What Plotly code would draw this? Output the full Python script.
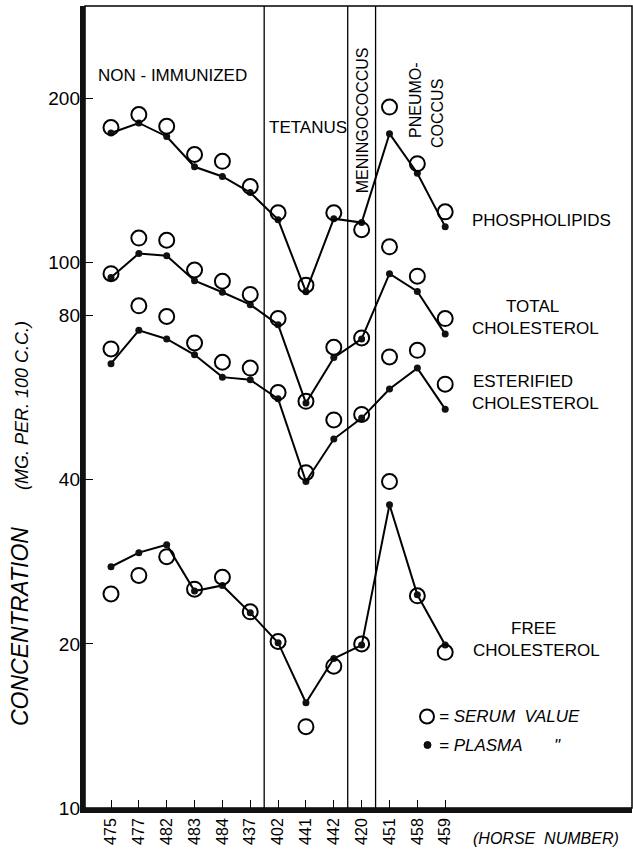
import plotly.graph_objects as go

# ---------------- data ----------------
horses = ["475", "477", "482", "483", "484", "437", "402", "441", "442", "420", "451", "458", "459"]
group_bounds = [5.5, 8.5, 9.5]
y_ticks = [10, 20, 40, 80, 100, 200]

phos_serum   = [177, 187, 178, 158, 153.5, 138, 123.5, 91, 123.5, 115, 193, 152, 124]
phos_plasma  = [173, 180.5, 170.5, 150, 144, 134.5, 120, 88.5, 120.5, 118.5, 172.5, 146, 116.5]
total_serum  = [95.5, 111, 110, 97, 92.5, 87.5, 79, 55.7, 70, 72.8, 107, 94.5, 79]
total_plasma = [94, 104, 103, 92.7, 88.3, 83.8, 77, 55.3, 67, 72.5, 95.5, 88.6, 74]
ester_serum  = [69.5, 83.4, 79.7, 71.3, 65.7, 64.1, 57.8, 41.2, 51.5, 52.7, 67.2, 69.1, 59.9]
ester_plasma = [65.3, 75.2, 72.5, 67.8, 61.7, 61, 56.3, 39.7, 47.5, 51.9, 58.7, 64.1, 53.9]
free_serum   = [24.7, 26.7, 28.9, 25.2, 26.5, 22.9, 20.2, 14.1, 18.2, 20, 39.7, 24.5, 19.3]
free_plasma  = [27.7, 29.4, 30.4, 25, 25.6, 22.8, 20.1, 15.6, 18.8, 19.9, 36, 24.6, 19.9]

# ---------------- layout geometry ----------------
W, H = 633, 856
ML, MR, MT, MB = 85, 1, 6, 48
PW, PH = W - ML - MR, H - MT - MB

def px(x):
    return (x - ML) / PW

def py(y):
    return (H - MB - y) / PH

FONT = "Liberation Sans, Arial, sans-serif"

fig = go.Figure()

series = [
    (phos_serum, phos_plasma),
    (total_serum, total_plasma),
    (ester_serum, ester_plasma),
    (free_serum, free_plasma),
]
for serum, plasma in series:
    fig.add_trace(go.Scatter(
        x=horses, y=plasma, mode="lines+markers",
        line=dict(color="black", width=2),
        marker=dict(symbol="circle", size=7, color="#111"),
        showlegend=False, hoverinfo="skip", cliponaxis=False))
    fig.add_trace(go.Scatter(
        x=horses, y=serum, mode="markers",
        marker=dict(symbol="circle-open", size=15, color="black", line=dict(width=2)),
        showlegend=False, hoverinfo="skip", cliponaxis=False))

shapes = []
for b in group_bounds:
    shapes.append(dict(type="line", xref="x", yref="paper", x0=b, x1=b, y0=0, y1=1,
                       line=dict(color="black", width=1.3)))
# thin frame (top/right)
shapes.append(dict(type="rect", xref="paper", yref="paper", x0=0, x1=1, y0=0, y1=1,
                   line=dict(color="black", width=1.5)))
# thick left and bottom axes
shapes.append(dict(type="line", xref="paper", yref="paper",
                   x0=px(82.5), x1=px(82.5), y0=py(813), y1=1,
                   line=dict(color="#111", width=5)))
shapes.append(dict(type="line", xref="paper", yref="paper",
                   x0=px(80), x1=1, y0=py(810.5), y1=py(810.5),
                   line=dict(color="#111", width=5)))
# legend symbols
shapes.append(dict(type="circle", xref="paper", yref="paper",
                   x0=px(420), x1=px(434), y0=py(723.5), y1=py(709.5),
                   line=dict(color="black", width=2)))
shapes.append(dict(type="circle", xref="paper", yref="paper",
                   x0=px(424), x1=px(431), y0=py(748.5), y1=py(741.5),
                   line=dict(color="black", width=1), fillcolor="#111"))

ann = []
def text(t, x, y, size=17, xanchor="center", angle=0, italic=False):
    if italic:
        t = "<i>" + t + "</i>"
    ann.append(dict(text=t, x=px(x), y=py(y), xref="paper", yref="paper",
                    xanchor=xanchor, yanchor="middle", showarrow=False,
                    textangle=angle, font=dict(family=FONT, size=size, color="black")))

text("NON - IMMUNIZED", 172.5, 75)
text("TETANUS", 307.5, 128)
text("MENINGOCOCCUS", 362.3, 120, size=16, angle=-90)
text("PNEUMO-", 415, 100, size=16, angle=-90)
text("COCCUS", 437, 114, size=16, angle=-90)
text("PHOSPHOLIPIDS", 470, 220, xanchor="left")
text("TOTAL", 532, 306.7)
text("CHOLESTEROL", 470, 328.3, xanchor="left")
text("ESTERIFIED", 471, 381.7, xanchor="left")
text("CHOLESTEROL", 470, 403.3, xanchor="left")
text("FREE", 533, 628.3)
text("CHOLESTEROL", 471, 650, xanchor="left")
text("= SERUM\u00a0\u00a0VALUE", 437, 716.7, xanchor="left", italic=True)
text("= PLASMA", 437, 745, xanchor="left", italic=True)
text("\"", 557, 745, italic=True)
text("CONCENTRATION", 20, 627, size=23, angle=-90, italic=True)
text("(MG.\u00a0PER.\u00a0100\u00a0C.C.)", 22, 406, size=18, angle=-90, italic=True)
text("(HORSE\u00a0\u00a0NUMBER)", 471, 838, size=16, xanchor="left", italic=True)

fig.update_layout(
    width=W, height=H,
    margin=dict(l=ML, r=MR, t=MT, b=MB, pad=0),
    paper_bgcolor="white", plot_bgcolor="white",
    font=dict(family=FONT, color="black"),
    shapes=shapes, annotations=ann,
    showlegend=False,
)
fig.update_xaxes(
    type="category", range=[(ML - 111) / 27.85, (W - MR - 111) / 27.85],
    showgrid=False, zeroline=False, showline=False,
    ticks="inside", ticklen=8, tickwidth=1.3, tickcolor="black",
    tickangle=-90, tickfont=dict(family=FONT, size=16), ticklabelstandoff=6,
)
fig.update_yaxes(
    type="log", range=[1.0, 1.0 + PH / 545.2],
    tickvals=y_ticks, ticktext=[str(v) for v in y_ticks],
    showgrid=False, zeroline=False, showline=False,
    ticks="inside", ticklen=8, tickwidth=1.3, tickcolor="black",
    tickfont=dict(family=FONT, size=19), ticklabelstandoff=4,
)

fig.write_html("out.html")
